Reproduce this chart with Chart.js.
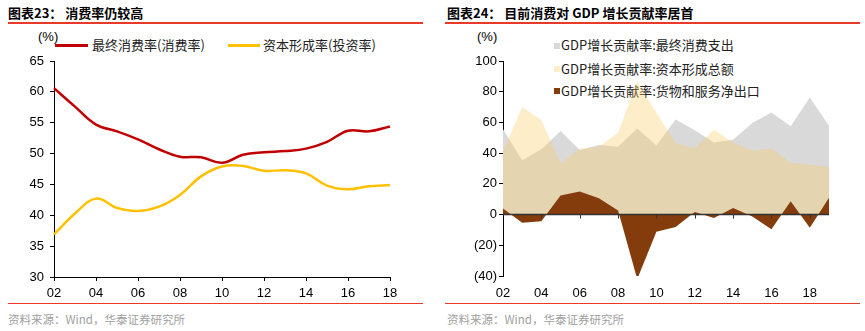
<!DOCTYPE html>
<html lang="zh">
<head>
<meta charset="UTF-8">
<title>消费率与GDP增长贡献率</title>
<script src="https://cdn.jsdelivr.net/npm/chart.js"></script>
<style>
  body { margin: 0; background: #fff; width: 865px; height: 331px; position: relative; overflow: hidden;
         font-family: "Noto Sans CJK SC", "Liberation Sans", sans-serif; }
  .title { position: absolute; top: 3px; font-size: 13px; font-weight: bold; color: #000; white-space: nowrap; }
  .redtop { position: absolute; top: 22px; height: 2px; background: #e8392b; }
  .redbot { position: absolute; top: 303px; height: 1px; background: #e8392b; }
  .src { position: absolute; top: 311px; font-size: 11.5px; color: #a0a0a0; white-space: nowrap; }
  .unit { position: absolute; top: 29px; font-family: "Liberation Sans", sans-serif; font-size: 13px; color: #000; }
  .lg { position: absolute; font-size: 13px; color: #222; white-space: nowrap; line-height: 16px; }
  .lgline { position: absolute; height: 3px; }
  .lgbox { position: absolute; width: 6px; height: 6px; }
  canvas { position: absolute; top: 30px; }
</style>
</head>
<body>
<div class="title" style="left:8px">图表23： 消费率仍较高</div>
<div class="title" style="left:447px">图表24： 目前消费对 GDP 增长贡献率居首</div>
<div class="redtop" style="left:8px;width:415px"></div>
<div class="redtop" style="left:445px;width:415px"></div>

<div class="unit" style="left:38px">(%)</div>
<div class="unit" style="left:477px">(%)</div>

<div class="lgline" style="left:55px;top:44px;width:33px;background:#c00000"></div>
<div class="lg" style="left:92px;top:37px">最终消费率(消费率)</div>
<div class="lgline" style="left:228px;top:44px;width:32px;background:#ffc000"></div>
<div class="lg" style="left:263px;top:37px">资本形成率(投资率)</div>

<div class="lgbox" style="left:554px;top:43px;background:#d9d9d9"></div>
<div class="lg" style="left:561px;top:37px">GDP增长贡献率:最终消费支出</div>
<div class="lgbox" style="left:554px;top:66px;background:#fdedc8"></div>
<div class="lg" style="left:561px;top:61px">GDP增长贡献率:资本形成总额</div>
<div class="lgbox" style="left:554px;top:88px;background:#843c0c"></div>
<div class="lg" style="left:561px;top:83px">GDP增长贡献率:货物和服务净出口</div>

<canvas id="left" width="430" height="275" style="left:0px"></canvas>
<canvas id="right" width="435" height="275" style="left:430px"></canvas>

<div class="redbot" style="left:8px;width:415px"></div>
<div class="redbot" style="left:445px;width:415px"></div>
<div class="src" style="left:8px">资料来源：Wind，华泰证券研究所</div>
<div class="src" style="left:447px">资料来源：Wind，华泰证券研究所</div>

<script>
// 图表23 data
const yearsA = ['02','03','04','05','06','07','08','09','10','11','12','13','14','15','16','17','18'];
const consumptionRate = [60.6, 57.6, 54.7, 53.6, 52.3, 50.7, 49.5, 49.4, 48.5, 49.8, 50.2, 50.4, 50.8, 51.9, 53.7, 53.6, 54.4];
const investmentRate = [36.9, 40.3, 42.7, 41.2, 40.7, 41.4, 43.3, 46.3, 47.9, 48.0, 47.2, 47.3, 46.8, 44.8, 44.2, 44.7, 44.9];
const ticksA = [30, 35, 40, 45, 50, 55, 60, 65];

// 图表24 data
const yearsB = ['02','03','04','05','06','07','08','09','10','11','12','13','14','15','16','17','18','19'];
const consumptionContrib = [55.6, 35.4, 42.6, 54.4, 42.0, 45.3, 44.2, 56.1, 44.9, 61.9, 54.9, 47.0, 48.8, 59.7, 66.5, 57.5, 76.2, 57.8];
const capitalContrib = [41.0, 70.0, 61.6, 33.1, 42.9, 44.1, 53.2, 86.5, 66.3, 46.2, 43.4, 55.3, 46.9, 41.6, 43.1, 33.8, 32.4, 31.2];
const netExportContrib = [4.0, -5.4, -4.3, 12.5, 15.1, 10.6, 2.6, -42.0, -11.2, -8.1, 1.7, -2.3, 4.3, -1.3, -9.6, 8.7, -8.6, 11.0];
const ticksB = [-40, -20, 0, 20, 40, 60, 80, 100];

Chart.defaults.font.family = '"Liberation Sans", Arial, sans-serif';
Chart.defaults.font.size = 13;
Chart.defaults.color = '#000';

const evenOnly = function (val, i) { return i % 2 === 0 ? this.getLabelForValue(val) : null; };

new Chart(document.getElementById('left'), {
  type: 'line',
  data: {
    labels: yearsA,
    datasets: [
      { data: consumptionRate, borderColor: '#c00000', borderWidth: 2.5, tension: 0.4, pointRadius: 0, fill: false },
      { data: investmentRate, borderColor: '#ffc000', borderWidth: 2.5, tension: 0.4, pointRadius: 0, fill: false }
    ]
  },
  options: {
    responsive: false,
    animation: false,
    layout: { padding: { top: 31, right: 40, left: 0, bottom: 0 } },
    plugins: { legend: { display: false }, tooltip: { enabled: false } },
    scales: {
      x: {
        offset: false,
        border: { color: '#000', width: 1 },
        grid: { drawOnChartArea: false, color: '#000', tickLength: 4 },
        ticks: { autoSkip: false, maxRotation: 0, padding: 5, callback: evenOnly },
        afterFit(s) { s.height = 28; }
      },
      y: {
        min: ticksA[0], max: ticksA[ticksA.length - 1],
        border: { color: '#000', width: 1 },
        grid: { drawOnChartArea: false, color: '#000', tickLength: 4 },
        ticks: { stepSize: 5, padding: 6 },
        afterFit(s) { s.width = 54; }
      }
    }
  }
});

const zeroLine = {
  id: 'zeroLine',
  afterDatasetsDraw(chart) {
    const { ctx, chartArea, scales } = chart;
    const y = scales.y.getPixelForValue(0);
    ctx.save();
    ctx.strokeStyle = '#333';
    ctx.lineWidth = 1.5;
    ctx.beginPath();
    ctx.moveTo(chartArea.left, y);
    ctx.lineTo(chartArea.right, y);
    ctx.stroke();
    ctx.lineWidth = 1;
    ctx.beginPath();
    yearsB.forEach((lab, i) => {
      if (i % 2 === 0 && i > 0) {
        const x = Math.round(scales.x.getPixelForValue(i)) + 0.5;
        ctx.moveTo(x, y);
        ctx.lineTo(x, y + 4);
      }
    });
    ctx.stroke();
    ctx.restore();
  }
};

new Chart(document.getElementById('right'), {
  type: 'line',
  data: {
    labels: yearsB,
    datasets: [
      { data: consumptionContrib, order: 3, borderWidth: 0, pointRadius: 0, tension: 0,
        fill: 'origin', backgroundColor: '#d9d9d9' },
      { data: capitalContrib, order: 2, borderWidth: 0, pointRadius: 0, tension: 0,
        fill: 'origin', backgroundColor: 'rgba(249,202,93,0.34)' },
      { data: netExportContrib, order: 1, borderWidth: 0, pointRadius: 0, tension: 0,
        fill: 'origin', backgroundColor: '#843c0c' }
    ]
  },
  options: {
    responsive: false,
    animation: false,
    layout: { padding: { top: 31, right: 36, left: 0, bottom: 0 } },
    plugins: { legend: { display: false }, tooltip: { enabled: false } },
    scales: {
      x: {
        offset: false,
        border: { display: false },
        grid: { display: false, drawTicks: false },
        ticks: { autoSkip: false, maxRotation: 0, padding: 10, callback: evenOnly },
        afterFit(s) { s.height = 29; }
      },
      y: {
        min: ticksB[0], max: ticksB[ticksB.length - 1],
        border: { color: '#000', width: 1 },
        grid: { drawOnChartArea: false, color: '#000', tickLength: 4 },
        ticks: { stepSize: 20, padding: 2, callback: v => v < 0 ? '(' + (-v) + ')' : v },
        afterFit(s) { s.width = 73; }
      }
    }
  },
  plugins: [zeroLine]
});
</script>
</body>
</html>
